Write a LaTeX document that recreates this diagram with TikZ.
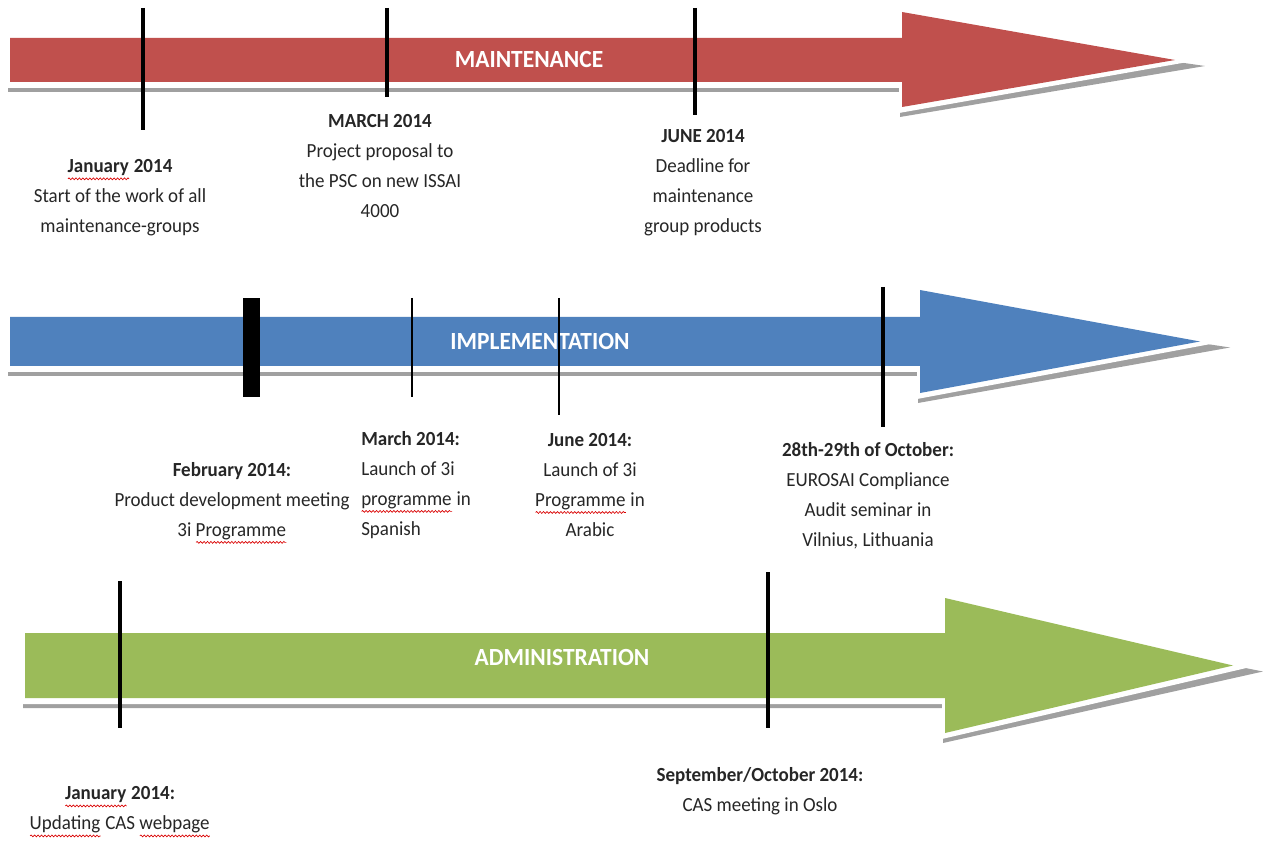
\documentclass[tikz,border=0pt]{standalone}
\usepackage{fontspec}
\setmainfont{Carlito}[FakeStretch=0.95]
\usetikzlibrary{decorations.pathmorphing}
\definecolor{maintred}{HTML}{C0504D}
\definecolor{implblue}{HTML}{4F81BD}
\definecolor{admingreen}{HTML}{9BBB59}
\definecolor{arrowshadow}{HTML}{A0A0A0}
\newsavebox{\spellbox}
\newcommand{\spellwave}[1]{\leavevmode\sbox{\spellbox}{#1}\rlap{\usebox{\spellbox}}\raisebox{-4.5pt}{\tikz[baseline=0pt] \draw[red!85!black, line width=0.5pt, decorate, decoration={snake, amplitude=0.7pt, segment length=2.6pt}] (0pt,0pt) -- (\wd\spellbox,0pt);}}
% left, shaft top, shaft bottom, head x, head top, head bottom, tip, colour
\newcommand{\bandarrow}[8]{%
  \fill[arrowshadow] (#1-2,#2+10) -- (#4-2,#2+10) -- (#4-2,#5+10) -- (#7+30,{(#2+#3)/2+6}) -- (#4-2,#6+10) -- (#4-2,#3+10) -- (#1-2,#3+10) -- cycle;
  \fill[white] (#1-2,#2-3) -- (#4-3,#2-3) -- (#4-3,#5-4) -- (#7+24,{(#2+#3)/2}) -- (#4-3,#6+6) -- (#4-3,#3+6) -- (#1-2,#3+6) -- cycle;
  \fill[#8] (#1,#2) -- (#4,#2) -- (#4,#5) -- (#7,{(#2+#3)/2}) -- (#4,#6) -- (#4,#3) -- (#1,#3) -- cycle;
}
\tikzset{
  bannerlabel/.style={text=white, inner sep=0pt, font=\bfseries\fontsize{18.5}{22}\selectfont},
  note/.style={align=center, inner sep=0pt, text=black!85, font=\fontsize{15}{22.5}\selectfont},
  milestone/.style={line width=2.6pt},
  thinmilestone/.style={line width=1.7pt}
}
\begin{document}
\begin{tikzpicture}[x=0.75pt,y=-0.75pt]
\useasboundingbox (0,0) rectangle (1263,841);

\bandarrow{10}{38}{82}{902}{12}{107}{1175}{maintred}
\bandarrow{10}{317}{366}{920}{290}{393}{1200}{implblue}
\bandarrow{25}{633}{698}{945}{598}{733}{1233}{admingreen}

\node[bannerlabel] (maint) at (529,60) {MAINTENANCE};
\node[bannerlabel] (impl) at (540,341) {IMPLEMENTATION};
\node[bannerlabel] (admin) at (562,657) {ADMINISTRATION};

\draw[milestone] (143,8) -- (143,130);
\draw[milestone] (387,8) -- (387,97);
\draw[milestone] (695,8) -- (695,115);

\fill (243,298) rectangle (260,397);
\draw[thinmilestone] (412,298) -- (412,397);
\draw[thinmilestone] (559,298) -- (559,415);
\draw[milestone] (883,287) -- (883,427);

\draw[milestone] (120,581) -- (120,728);
\draw[milestone] (768,572) -- (768,728);

\node[note] (janmaint) at (120,198) {\textbf{\spellwave{January} 2014}\\Start of the work of all\\maintenance-groups};
\node[note] (marmaint) at (380,166) {\textbf{MARCH 2014}\\Project proposal to\\the PSC on new ISSAI\\4000};
\node[note] (junmaint) at (703,183) {\textbf{JUNE 2014}\\Deadline for\\maintenance\\group products};

\node[note] (febimpl) at (232,503) {\textbf{February 2014:}\\Product development meeting\\3i \spellwave{Programme}};
\node[note, align=left, anchor=west] (marimpl) at (361,485) {\textbf{March 2014:}\\Launch of 3i\\\spellwave{programme} in\\Spanish};
\node[note] (junimpl) at (590,485) {\textbf{June 2014:}\\Launch of 3i\\\spellwave{Programme} in\\Arabic};
\node[note] (octimpl) at (868,496) {\textbf{28th-29th of October:}\\EUROSAI Compliance\\Audit seminar in\\Vilnius, Lithuania};

\node[note] (janadmin) at (120,812) {\textbf{\spellwave{January} 2014:}\\\spellwave{Updating} CAS \spellwave{webpage}};
\node[note] (sepadmin) at (760,791) {\textbf{September/October 2014:}\\CAS meeting in Oslo};
\end{tikzpicture}
\end{document}
